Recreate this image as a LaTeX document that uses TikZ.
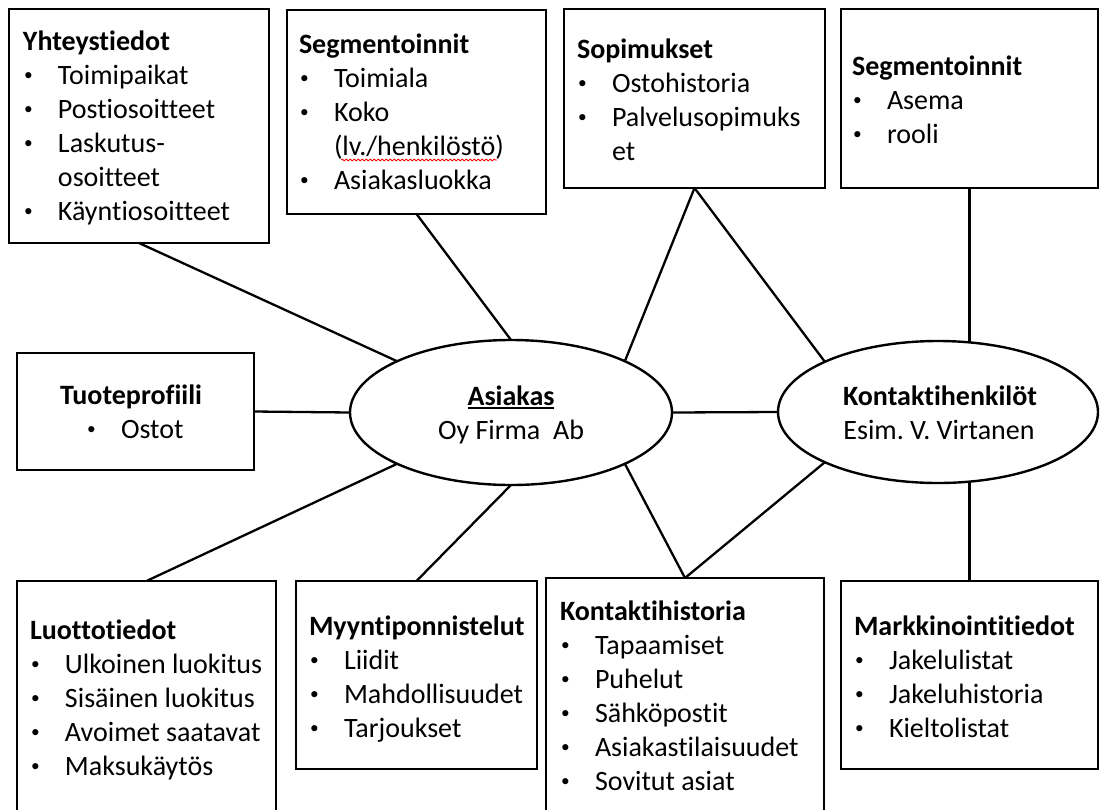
\documentclass[tikz,border=0pt]{standalone}
\usepackage{graphicx}
\usepackage{fontspec}
\setmainfont{Carlito}[Ligatures={NoCommon}]
\frenchspacing
\usetikzlibrary{shapes.geometric,decorations.pathmorphing}
\newcommand{\blt}[1]{\makebox[35pt][l]{\hspace*{1pt}\raisebox{3.5pt}{\scalebox{0.62}{\textbullet}}}#1}
\newcommand{\bcnt}[1]{\hspace*{35pt}#1}
\begin{document}
\begin{tikzpicture}[x=1pt,y=-1pt,
  box/.style={draw, line width=2.4pt, rectangle, inner sep=0pt, outer sep=0pt, anchor=north west, fill=white},
  ell/.style={draw, line width=2.4pt, ellipse, inner sep=0pt, outer sep=0pt, fill=white},
  link/.style={line width=2.3pt},
  txt/.style={inner sep=0pt, outer sep=0pt, anchor=base west, font=\fontsize{28}{34}\selectfont},
  ctxt/.style={txt, anchor=base}]
\path[use as bounding box, fill=white] (0,0) rectangle (1100,809);

% boxes
\node[box, minimum width=260pt, minimum height=234pt] (yht) at (9,9) {};
\node[box, minimum width=259pt, minimum height=204pt] (seg1) at (287,10) {};
\node[box, minimum width=261pt, minimum height=179pt] (sop) at (564,9) {};
\node[box, minimum width=257pt, minimum height=179pt] (seg2) at (841,9) {};
\node[box, minimum width=237pt, minimum height=117pt] (tuote) at (17,353) {};
\node[box, minimum width=259pt, minimum height=260pt] (luotto) at (17,581) {};
\node[box, minimum width=241pt, minimum height=188pt] (myynti) at (296,581) {};
\node[box, minimum width=278pt, minimum height=260pt] (kh) at (546,578) {};
\node[box, minimum width=257pt, minimum height=188pt] (mark) at (841,581) {};

% ellipses
\node[ell, minimum width=322pt, minimum height=145pt] (asiakas) at (511,412.5) {};
\node[ell, minimum width=320pt, minimum height=142pt] (kontakti) at (938,412) {};

% connectors
\draw[link] (yht.south) -- (asiakas.north west);
\draw[link] (seg1.south) -- (asiakas.north);
\draw[link] (sop.south) -- (asiakas.north east);
\draw[link] (sop.south) -- (kontakti.north west);
\draw[link] (seg2.south) -- (seg2.south |- kontakti.65.4);
\draw[link] (tuote.east) -- (asiakas.west);
\draw[link] (asiakas.east) -- (kontakti.west);
\draw[link] (asiakas.south west) -- (luotto.north);
\draw[link] (asiakas.south) -- (myynti.north);
\draw[link] (asiakas.south east) -- (kh.north);
\draw[link] (kontakti.south west) -- (kh.north);
\draw[link] (mark.north) -- (mark.north |- kontakti.-65.4);

% box texts
\node[txt] (yhtT) at (23,50) {\begin{tabular}[t]{@{}l@{}}\textbf{Yhteystiedot}\\ \blt{Toimipaikat}\\ \blt{Postiosoitteet}\\ \blt{Laskutus-}\\ \bcnt{osoitteet}\\ \blt{Käyntiosoitteet}\end{tabular}};
\node[txt] (seg1T) at (299,53) {\begin{tabular}[t]{@{}l@{}}\textbf{Segmentoinnit}\\ \blt{Toimiala}\\ \blt{Koko}\\ \bcnt{(lv./henkilöstö)}\\ \blt{Asiakasluokka}\end{tabular}};
\draw[red, line width=0.8pt, decorate, decoration={snake, amplitude=0.9pt, segment length=4pt}] (341,160) -- (497,160);
\node[txt] (sopT) at (577,58) {\begin{tabular}[t]{@{}l@{}}\textbf{Sopimukset}\\ \blt{Ostohistoria}\\ \blt{Palvelusopimuks}\\ \bcnt{et}\end{tabular}};
\node[txt] (seg2T) at (852,75) {\begin{tabular}[t]{@{}l@{}}\textbf{Segmentoinnit}\\ \blt{Asema}\\ \blt{rooli}\end{tabular}};
\node[txt] (tuoteT) at (60,404) {\begin{tabular}[t]{@{}l@{}}\textbf{Tuoteprofiili}\\ \hspace*{26pt}\blt{Ostot}\end{tabular}};
\node[txt] (luottoT) at (30,639) {\begin{tabular}[t]{@{}l@{}}\textbf{Luottotiedot}\\ \blt{Ulkoinen luokitus}\\ \blt{Sisäinen luokitus}\\ \blt{Avoimet saatavat}\\ \blt{Maksukäytös}\end{tabular}};
\node[txt] (myyntiT) at (309,635) {\begin{tabular}[t]{@{}l@{}}\textbf{Myyntiponnistelut}\\ \blt{Liidit}\\ \blt{Mahdollisuudet}\\ \blt{Tarjoukset}\end{tabular}};
\node[txt] (khT) at (560,620) {\begin{tabular}[t]{@{}l@{}}\textbf{Kontaktihistoria}\\ \blt{Tapaamiset}\\ \blt{Puhelut}\\ \blt{Sähköpostit}\\ \blt{Asiakastilaisuudet}\\ \blt{Sovitut asiat}\end{tabular}};
\node[txt] (markT) at (854,635) {\begin{tabular}[t]{@{}l@{}}\textbf{Markkinointitiedot}\\ \blt{Jakelulistat}\\ \blt{Jakeluhistoria}\\ \blt{Kieltolistat}\end{tabular}};

% ellipse texts
\node[ctxt] (asT) at (511,405) {\textbf{Asiakas}};
\draw[line width=1.5pt] ([yshift=-3pt]asT.base west) -- ([yshift=-3pt]asT.base east);
\node[ctxt] (asS) at (511,439) {Oy Firma\ \ Ab};
\node[ctxt] (koT) at (940,405) {\textbf{Kontaktihenkilöt}};
\node[ctxt] (koS) at (939,439) {Esim. V. Virtanen};
\end{tikzpicture}
\end{document}
